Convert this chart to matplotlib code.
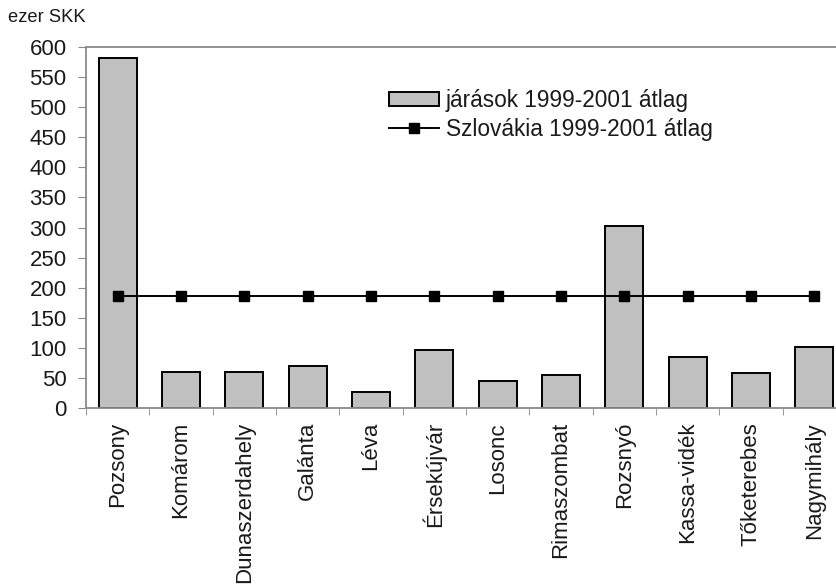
import matplotlib
matplotlib.use("Agg")
import matplotlib.pyplot as plt
from matplotlib.ticker import MultipleLocator, FixedLocator

plt.rcParams["font.family"] = ["Liberation Sans", "DejaVu Sans"]

districts = ["Pozsony", "Komárom", "Dunaszerdahely", "Galánta", "Léva",
             "Érsekújvár", "Losonc", "Rimaszombat", "Rozsnyó", "Kassa-vidék",
             "Tőketerebes", "Nagymihály"]
district_avg = [582, 60, 60, 69, 27, 96, 45, 55, 303, 84, 58, 102]
slovakia_avg = [186] * len(districts)

TXT = "#1a1a1a"
AX = "#8a8a8a"

fig = plt.figure(figsize=(8.37, 5.87), dpi=100)
ax = fig.add_axes([86 / 837, 1 - 408 / 587, 760 / 837, 361 / 587])

x = range(len(districts))
bars = ax.bar(x, district_avg, width=0.6, color="#c0c0c0", edgecolor="black",
              linewidth=1.4, label="járások 1999-2001 átlag", zorder=2)
line, = ax.plot(x, slovakia_avg, color="black", linewidth=1.4, marker="s",
                markersize=7.5, label="Szlovákia 1999-2001 átlag", zorder=3)

ax.set_xlim(-0.5, len(districts) - 0.5)
ax.set_ylim(0, 600)
ax.yaxis.set_major_locator(MultipleLocator(50))
ax.set_xticks(list(x))
ax.set_xticklabels(districts, rotation=90, fontsize=16, color=TXT)
ax.xaxis.set_minor_locator(FixedLocator([i + 0.5 for i in range(-1, len(districts))]))
ax.tick_params(axis="x", which="major", length=0, pad=10)
ax.tick_params(axis="x", which="minor", length=5, color=AX, direction="out")
ax.tick_params(axis="y", length=6, color=AX, labelsize=16, labelcolor=TXT, pad=8)

for s in ("left", "bottom", "top"):
    ax.spines[s].set_color(AX)
    ax.spines[s].set_linewidth(1.3)
ax.spines["right"].set_visible(False)

fig.text(8 / 837, 1 - 18 / 587, "ezer SKK", fontsize=13.2, color=TXT,
         ha="left", va="center")

ax.legend(handles=[bars, line], loc="upper left",
          bbox_to_anchor=(389 / 837, 1 - 89 / 587),
          bbox_transform=fig.transFigure, frameon=False, fontsize=16.3,
          handlelength=2.2, handleheight=0.6, handletextpad=0.3,
          labelspacing=0.25, borderaxespad=0, borderpad=0, labelcolor=TXT)

fig.savefig("out.png", dpi=100)
plt.close(fig)
